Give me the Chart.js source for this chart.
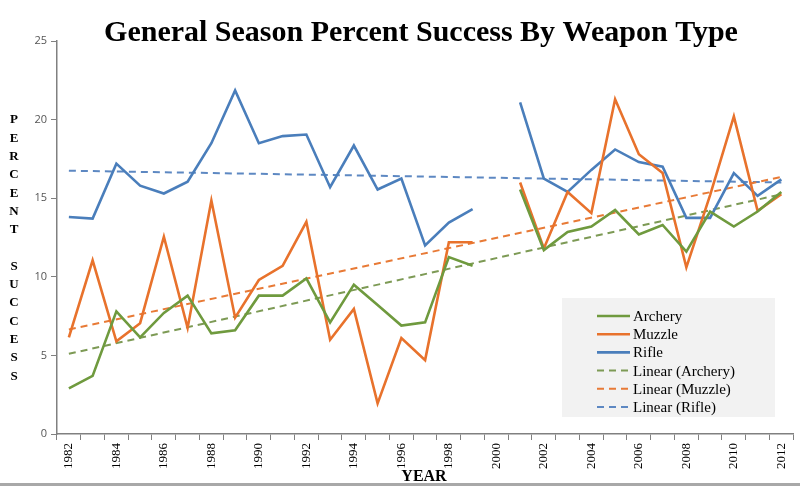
<!DOCTYPE html>
<html>
<head>
<meta charset="utf-8">
<script src="https://cdn.jsdelivr.net/npm/chart.js@4/dist/chart.umd.min.js"></script>
<style>
  html, body { margin: 0; padding: 0; background: #ffffff; }
  #wrap { position: relative; width: 800px; height: 486px; }
</style>
</head>
<body>
<div id="wrap"><canvas id="c" width="800" height="486"></canvas></div>
<script>
const years = ['1982','1983','1984','1985','1986','1987','1988','1989','1990','1991','1992','1993','1994','1995','1996','1997','1998','1999','2000','2001','2002','2003','2004','2005','2006','2007','2008','2009','2010','2011','2012'];
const archery = [2.9, 3.7, 7.8, 6.15, 7.7, 8.8, 6.4, 6.6, 8.8, 8.8, 9.9, 7.1, 9.5, 8.2, 6.9, 7.1, 11.25, 10.7, null, 15.55, 11.7, 12.85, 13.2, 14.25, 12.7, 13.3, 11.6, 14.15, 13.2, 14.15, 15.4];
const muzzle = [6.15, 11.05, 5.9, 7.05, 12.55, 6.75, 14.85, 7.4, 9.8, 10.7, 13.5, 6.0, 7.95, 1.95, 6.1, 4.7, 12.2, 12.2, null, 16.0, 11.8, 15.4, 14.05, 21.3, 17.8, 16.6, 10.6, 15.2, 20.2, 14.2, 15.25];
const rifle = [13.8, 13.7, 17.2, 15.8, 15.3, 16.05, 18.5, 21.85, 18.5, 18.95, 19.05, 15.7, 18.35, 15.55, 16.25, 12.0, 13.45, 14.3, null, 21.1, 16.25, 15.4, 16.8, 18.1, 17.3, 17.0, 13.75, 13.75, 16.6, 15.15, 16.2];
// trend line end values (first year, last year)
const trendArchery = [5.1, 15.25];
const trendMuzzle = [6.65, 16.35];
const trendRifle = [16.75, 16.0];
const yTicks = [0, 5, 10, 15, 20, 25];
const seriesNames = ['Archery', 'Muzzle', 'Rifle'];

function trendSeries(ends) {
  return years.map((y, i) => i === 0 ? ends[0] : (i === years.length - 1 ? ends[1] : null));
}

const GREEN = '#6f9a3e', ORANGE = '#e8722c', BLUE = '#4a7ebb';
const GREEN_D = '#7d9a55', ORANGE_D = '#e87a36', BLUE_D = '#5d88c2';

const solid = (label, data, color) => ({
  label, data, borderColor: color, backgroundColor: color,
  borderWidth: 2.6, pointRadius: 0, tension: 0, spanGaps: false, fill: false
});
const dashed = (label, data, color) => ({
  label, data, borderColor: color, backgroundColor: color,
  borderWidth: 2, borderDash: [7, 5], pointRadius: 0, tension: 0, spanGaps: true, fill: false
});

const overlay = {
  id: 'overlay',
  afterDraw(chart) {
    const ctx = chart.ctx;
    ctx.save();
    // title
    ctx.fillStyle = '#000';
    ctx.font = 'bold 30px "Liberation Serif", "DejaVu Serif", serif';
    ctx.textAlign = 'center';
    ctx.textBaseline = 'alphabetic';
    ctx.fillText('General Season Percent Success By Weapon Type', 421, 41);
    // y axis title (stacked letters)
    ctx.font = 'bold 13px "Liberation Serif", serif';
    ctx.textBaseline = 'middle';
    const letters = 'PERCENT SUCCESS'.split('');
    letters.forEach((ch, i) => { if (ch !== ' ') ctx.fillText(ch, 14, 120 + i * 18.3); });
    // x axis title
    ctx.font = 'bold 16px "Liberation Serif", serif';
    ctx.textBaseline = 'alphabetic';
    ctx.fillText('YEAR', 424, 481);
    // legend
    const lx = 562, ly = 298, lw = 213, lh = 119;
    ctx.fillStyle = 'rgba(238,238,238,0.75)';
    ctx.fillRect(lx, ly, lw, lh);
    ctx.font = '15px "Liberation Serif", serif';
    ctx.textAlign = 'left';
    ctx.textBaseline = 'middle';
    chart.data.datasets.forEach((ds, i) => {
      const y = 316 + i * 18.2;
      ctx.strokeStyle = ds.borderColor;
      ctx.lineWidth = ds.borderWidth;
      ctx.setLineDash(ds.borderDash || []);
      ctx.beginPath();
      ctx.moveTo(597, y);
      ctx.lineTo(630, y);
      ctx.stroke();
      ctx.setLineDash([]);
      ctx.fillStyle = '#000';
      ctx.fillText(ds.label, 633, y + 1);
    });
    // bottom border
    ctx.fillStyle = '#a8a8a8';
    ctx.fillRect(0, 483, 800, 3);
    ctx.restore();
  }
};

new Chart(document.getElementById('c'), {
  type: 'line',
  data: {
    labels: years,
    datasets: [
      solid(seriesNames[0], archery, GREEN),
      solid(seriesNames[1], muzzle, ORANGE),
      solid(seriesNames[2], rifle, BLUE),
      dashed('Linear (' + seriesNames[0] + ')', trendSeries(trendArchery), GREEN_D),
      dashed('Linear (' + seriesNames[1] + ')', trendSeries(trendMuzzle), ORANGE_D),
      dashed('Linear (' + seriesNames[2] + ')', trendSeries(trendRifle), BLUE_D)
    ]
  },
  options: {
    responsive: false,
    animation: false,
    layout: { padding: { top: 41, right: 3, left: 0, bottom: 0 } },
    plugins: { legend: { display: false }, title: { display: false }, tooltip: { enabled: false } },
    scales: {
      x: {
        type: 'category',
        offset: true,
        grid: { display: true, offset: true, drawOnChartArea: false, drawTicks: true, tickLength: 6, color: '#808080' },
        border: { display: true, color: '#808080', width: 1.5 },
        ticks: {
          autoSkip: false, maxRotation: 90, minRotation: 90, padding: 3,
          color: '#000',
          font: { family: '"Liberation Serif", serif', size: 13 },
          callback: function(v, i) { return (i % 2 === 0) ? years[i] : ''; }
        },
        afterFit(scale) { scale.height = 52; }
      },
      y: {
        min: 0, max: 25,
        afterBuildTicks(scale) { scale.ticks = yTicks.map(v => ({ value: v })); },
        grid: { display: true, drawOnChartArea: false, drawTicks: true, tickLength: 6, color: '#808080' },
        border: { display: true, color: '#808080', width: 1.5 },
        ticks: { color: '#555', padding: 4, font: { family: '"Open Sans", "Liberation Sans", sans-serif', size: 11 } },
        afterFit(scale) { scale.width = 57; }
      }
    }
  },
  plugins: [overlay]
});
</script>
</body>
</html>
